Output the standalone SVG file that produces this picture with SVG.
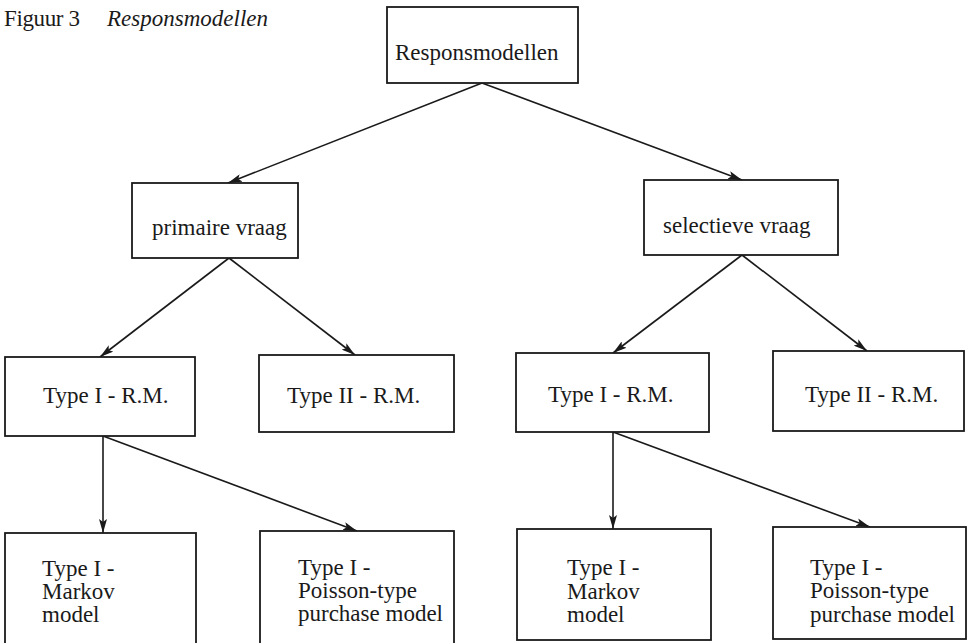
<svg xmlns="http://www.w3.org/2000/svg" width="971" height="643" viewBox="0 0 971 643">
<style>
.box{fill:#fff;stroke:#1a1a1a;stroke-width:1.8}
.t{font-family:"Liberation Serif","DejaVu Serif",serif;font-size:23px;fill:#1a1a1a}
.c{stroke:#1a1a1a;stroke-width:1.6;fill:none;marker-end:url(#ah)}
</style>
<defs>
<marker id="ah" viewBox="0 0 14 8" refX="14" refY="4" markerWidth="14" markerHeight="8" markerUnits="userSpaceOnUse" orient="auto">
<path d="M0,0 L14,4 L0,8 L3,4 Z" fill="#1a1a1a"/>
</marker>
</defs>
<rect width="971" height="643" fill="#fff"/>
<g id="title">
<text class="t" x="4" y="26" font-size="18" textLength="76" lengthAdjust="spacing">Figuur 3</text>
<text class="t" x="107" y="26" font-size="18" font-style="italic" textLength="161" lengthAdjust="spacing">Responsmodellen</text>
</g>
<g id="connectors">
<line class="c" x1="482" y1="83" x2="228" y2="183"/>
<line class="c" x1="482" y1="83" x2="742" y2="180"/>
<line class="c" x1="229" y1="258" x2="100" y2="357"/>
<line class="c" x1="229" y1="258" x2="355" y2="355"/>
<line class="c" x1="742" y1="255" x2="613" y2="353"/>
<line class="c" x1="742" y1="255" x2="867" y2="351"/>
<line class="c" x1="103" y1="436" x2="103" y2="533"/>
<line class="c" x1="103" y1="436" x2="357" y2="531"/>
<line class="c" x1="613" y1="432" x2="613" y2="529"/>
<line class="c" x1="613" y1="432" x2="870" y2="527"/>
</g>
<g id="responsmodellen">
<rect class="box" x="387" y="7" width="191" height="76"/>
<text class="t" x="395" y="60">Responsmodellen</text>
</g>
<g id="primaire">
<rect class="box" x="132" y="183" width="166" height="75"/>
<text class="t" x="152" y="235">primaire vraag</text>
</g>
<g id="selectieve">
<rect class="box" x="644" y="180" width="194" height="75"/>
<text class="t" x="663" y="233">selectieve vraag</text>
</g>
<g id="type1-left">
<rect class="box" x="5" y="357" width="190" height="79"/>
<text class="t" x="43" y="403">Type I - R.M.</text>
</g>
<g id="type2-left">
<rect class="box" x="259" y="355" width="195" height="77"/>
<text class="t" x="287" y="403">Type II - R.M.</text>
</g>
<g id="type1-right">
<rect class="box" x="516" y="353" width="193" height="79"/>
<text class="t" x="548" y="402">Type I - R.M.</text>
</g>
<g id="type2-right">
<rect class="box" x="773" y="351" width="191" height="80"/>
<text class="t" x="805" y="402">Type II - R.M.</text>
</g>
<g id="markov-left">
<rect class="box" x="5" y="533" width="191" height="115"/>
<text class="t" x="42" y="576">Type I -</text>
<text class="t" x="42" y="599">Markov</text>
<text class="t" x="42" y="622">model</text>
</g>
<g id="poisson-left">
<rect class="box" x="260" y="531" width="194" height="117"/>
<text class="t" x="298" y="575">Type I -</text>
<text class="t" x="298" y="598">Poisson-type</text>
<text class="t" x="298" y="621">purchase model</text>
</g>
<g id="markov-right">
<rect class="box" x="517" y="529" width="194" height="111"/>
<text class="t" x="567" y="575">Type I -</text>
<text class="t" x="567" y="599">Markov</text>
<text class="t" x="567" y="622">model</text>
</g>
<g id="poisson-right">
<rect class="box" x="773" y="527" width="193" height="112"/>
<text class="t" x="810" y="575">Type I -</text>
<text class="t" x="810" y="598">Poisson-type</text>
<text class="t" x="810" y="622">purchase model</text>
</g>
</svg>
